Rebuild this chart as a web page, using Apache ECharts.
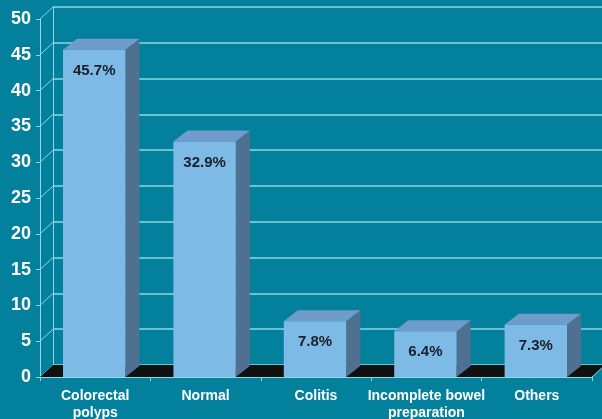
<!DOCTYPE html>
<html><head><meta charset="utf-8">
<script src="https://cdn.jsdelivr.net/npm/echarts@6/dist/echarts.min.js"></script>
<style>html,body{margin:0;padding:0;background:#03809b;}#c{width:602px;height:419px;}</style>
</head><body><div id="c"></div>
<script>
const categories = ['Colorectal\npolyps', 'Normal', 'Colitis', 'Incomplete bowel\npreparation', 'Others'];
const values = [45.7, 32.9, 7.8, 6.4, 7.3];
const valueLabels = ['45.7%', '32.9%', '7.8%', '6.4%', '7.3%'];
const yTicks = [0, 5, 10, 15, 20, 25, 30, 35, 40, 45, 50];

const DX = 13, DY = -12;       // wall depth
const BDX = 14, BDY = -11;     // bar depth
const lineCol = '#8fd6e6';
const font = 'Liberation Sans, Arial, sans-serif';

const chart = echarts.init(document.getElementById('c'), null, {renderer: 'canvas'});
chart.setOption({
  backgroundColor: '#03809b',
  animation: false,
  grid: [
    {left: 40, right: 10, top: 19, bottom: 42, containLabel: false, outerBoundsMode: 'none'},
    {left: 53, right: 0, top: 7, bottom: 54, containLabel: false, outerBoundsMode: 'none'}
  ],
  xAxis: [
    {type: 'category', gridIndex: 0, data: categories, boundaryGap: true,
     axisLine: {show: true, lineStyle: {color: lineCol, width: 1}},
     axisTick: {show: true, length: 4, lineStyle: {color: lineCol}},
     axisLabel: {color: '#ffffff', fontWeight: 'bold', fontSize: 14, fontFamily: font, margin: 11, lineHeight: 17, interval: 0},
     z: 5},
    {type: 'category', gridIndex: 1, data: categories, show: false}
  ],
  yAxis: [
    {type: 'value', gridIndex: 0, min: 0, max: 50, interval: 5,
     axisLine: {show: true, lineStyle: {color: lineCol, width: 1}},
     axisTick: {show: true, length: 4, lineStyle: {color: lineCol}},
     axisLabel: {color: '#ffffff', fontWeight: 'bold', fontSize: 18, fontFamily: font, margin: 9},
     splitLine: {show: false}},
    {type: 'value', gridIndex: 1, min: 0, max: 50, interval: 5,
     axisLine: {show: true, lineStyle: {color: lineCol, width: 1}},
     axisTick: {show: false}, axisLabel: {show: false},
     splitLine: {show: true, lineStyle: {color: lineCol, width: 1.5}}}
  ],
  series: [
    {
      type: 'custom', xAxisIndex: 0, yAxisIndex: 0, z: 1,
      data: yTicks.map(v => [0, v]),
      renderItem: function (params, api) {
        const cs = params.coordSys;
        const y = api.coord([0, api.value(1)])[1];
        return {type: 'line', shape: {x1: cs.x, y1: y, x2: cs.x + DX, y2: y + DY},
          style: {stroke: lineCol, lineWidth: 1}};
      }
    },
    {
      type: 'custom', xAxisIndex: 0, yAxisIndex: 0, z: 2,
      data: [[0, 0]],
      renderItem: function (params, api) {
        const cs = params.coordSys;
        const y0 = api.coord([0, 0])[1];
        const x0 = cs.x, x1 = cs.x + cs.width;
        return {type: 'group', children: [
          {type: 'polygon', shape: {points: [[x0, y0], [x1, y0], [x1 + DX, y0 + DY], [x0 + DX, y0 + DY]]},
           style: {fill: '#111111'}},
          {type: 'line', shape: {x1: x1, y1: y0, x2: x1 + DX, y2: y0 + DY}, style: {stroke: lineCol, lineWidth: 1}}
        ]};
      }
    },
    {
      type: 'custom', xAxisIndex: 0, yAxisIndex: 0, z: 3,
      data: values.map((v, i) => [i, v]),
      renderItem: function (params, api) {
        const i = api.value(0), v = api.value(1);
        const top = api.coord([i, v]);
        const base = api.coord([i, 0]);
        const bw = api.size([1, 0])[0] * 0.565;
        const xl = top[0] - bw / 2 - 1, xr = top[0] + bw / 2 - 1;
        const yt = top[1], yb = base[1];
        return {type: 'group', children: [
          {type: 'polygon', shape: {points: [[xr, yt], [xr + BDX, yt + BDY], [xr + BDX, yb + BDY], [xr, yb]]},
           style: {fill: '#4f7091'}},
          {type: 'polygon', shape: {points: [[xl, yt], [xl + BDX, yt + BDY], [xr + BDX, yt + BDY], [xr, yt]]},
           style: {fill: '#6f9ccb'}},
          {type: 'rect', shape: {x: xl, y: yt, width: xr - xl, height: yb - yt},
           style: {fill: '#7dbbe6'}},
          {type: 'text', x: (xl + xr) / 2, y: yt + 21,
           style: {text: valueLabels[params.dataIndex], fill: '#1b1e2c', font: 'bold 15px ' + font,
                   align: 'center', verticalAlign: 'middle'}}
        ]};
      }
    }
  ]
});
</script></body></html>
